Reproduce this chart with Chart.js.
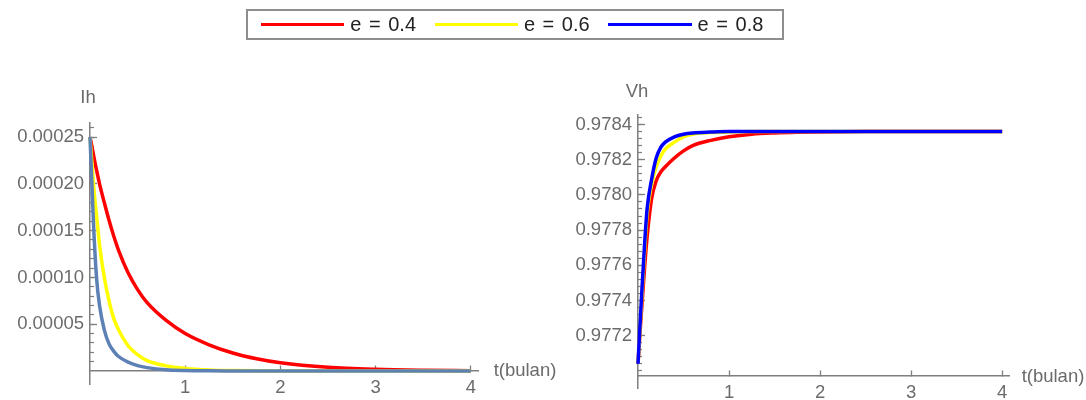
<!DOCTYPE html>
<html>
<head>
<meta charset="utf-8">
<script src="https://cdn.jsdelivr.net/npm/chart.js@4.4.1/dist/chart.umd.min.js"></script>
<style>
  body { margin: 0; background: #fff; }
  #wrap { position: relative; width: 1086px; height: 400px; overflow: hidden; font-family: "Liberation Sans", Arial, sans-serif; }
  canvas { position: absolute; top: 0; }
  #legend { position: absolute; left: 246px; top: 9px; width: 521px; height: 27px; border: 2px solid #8e8e8e;
            display: flex; align-items: center; padding-left: 13px; }
  #legend .sw { width: 84px; height: 3px; margin-right: 6px; }
  #legend .tx { width: 73px; margin-right: 12px; font-size: 20px; color: #222; white-space: nowrap; word-spacing: 2px; }
  .lbl { position: absolute; font-size: 18.5px; color: #6b6b6b; white-space: nowrap; transform: translate(-50%, -50%); }
</style>
</head>
<body>
<div id="wrap">
  <!-- canvases run a bit past the bottom edge so the plot area ends where the axes end -->
  <canvas id="ih" width="543" height="414" style="left:0"></canvas>
  <canvas id="vh" width="543" height="418" style="left:543px"></canvas>
  <div id="legend"></div>
  <div class="lbl" style="left:88px; top:97px">Ih</div>
  <div class="lbl" style="left:637px; top:91px">Vh</div>
  <div class="lbl" style="left:525px; top:370px">t(bulan)</div>
  <div class="lbl" style="left:1053px; top:376px">t(bulan)</div>
</div>
<script>
// time points (bulan), shared by all series
const tTime = [0, 0.02, 0.04, 0.07, 0.1, 0.15, 0.2, 0.25, 0.3, 0.4, 0.5, 0.6, 0.8, 1.0, 1.25, 1.5, 1.75, 2.0, 2.5, 3.0, 3.5, 4.0];

const seriesLabels = ['e = 0.4', 'e = 0.6', 'e = 0.8'];

// Ih(t)
const ihRed    = [2.5e-4, 2.40e-4, 2.29e-4, 2.14e-4, 2.0e-4, 1.80e-4, 1.61e-4, 1.44e-4, 1.29e-4, 1.05e-4, 8.7e-5, 7.3e-5, 5.4e-5, 4.0e-5, 2.8e-5, 1.92e-5, 1.3e-5, 8.7e-6, 3.9e-6, 1.75e-6, 7.9e-7, 3.6e-7];
const ihYellow = [2.5e-4, 2.22e-4, 1.95e-4, 1.65e-4, 1.35e-4, 1.0e-4, 7.5e-5, 5.6e-5, 4.4e-5, 2.7e-5, 1.75e-5, 1.1e-5, 5.5e-6, 2.8e-6, 1.1e-6, 5e-7, 2e-7, 1e-7, 0, 0, 0, 0];
const ihBlue   = [2.5e-4, 2.0e-4, 1.5e-4, 9.8e-5, 7.0e-5, 4.4e-5, 2.9e-5, 2.1e-5, 1.55e-5, 9.5e-6, 5.8e-6, 3.6e-6, 1.3e-6, 5e-7, 2e-7, 1e-7, 0, 0, 0, 0, 0, 0];

// Vh(t)
const vhRed    = [0.97704, 0.97720, 0.97735, 0.97757, 0.97776, 0.97798, 0.97808, 0.97813, 0.97816, 0.97821, 0.97825, 0.97828, 0.97831, 0.97833, 0.978345, 0.978352, 0.978356, 0.978358, 0.97836, 0.97836, 0.97836, 0.97836];
const vhYellow = [0.97704, 0.97722, 0.97740, 0.97766, 0.97789, 0.97806, 0.97816, 0.97822, 0.97826, 0.97830, 0.97833, 0.978345, 0.978354, 0.978358, 0.97836, 0.97836, 0.97836, 0.97836, 0.97836, 0.97836, 0.97836, 0.97836];
const vhBlue   = [0.97704, 0.97724, 0.97743, 0.97770, 0.97792, 0.97809, 0.97821, 0.97827, 0.97830, 0.97833, 0.978345, 0.978352, 0.978357, 0.97836, 0.97836, 0.97836, 0.97836, 0.97836, 0.97836, 0.97836, 0.97836, 0.97836];

// ticks
const xTicks = [1, 2, 3, 4];
const ihMajorTicks = [0.00005, 0.0001, 0.00015, 0.0002, 0.00025];
const vhMajorTicks = [0.9772, 0.9774, 0.9776, 0.9778, 0.978, 0.9782, 0.9784];
const ihMinorTicks = [];
for (let k = 1; k <= 26; k++) ihMinorTicks.push(k * 1e-5);
const vhMinorTicks = [];
for (let k = 0; k <= 36; k++) vhMinorTicks.push(0.977 + k * 0.00004);

const legendColors = ['#ff0000', '#ffff00', '#0000ff'];

// legend (html)
const legend = document.getElementById('legend');
seriesLabels.forEach((lab, i) => {
  legend.insertAdjacentHTML('beforeend',
    `<div class="sw" style="background:${legendColors[i]}"></div><div class="tx">${lab}</div>`);
});

const axisColor = '#7f7f7f';
const tickFont = { family: '"Liberation Sans", Arial, sans-serif', size: 18.5 };

function setTicks(values) {
  return scale => { scale.ticks = values.map(v => ({ value: v })); };
}

function makeChart(id, values, colors, opts) {
  const datasets = values.map((arr, i) => ({
    label: seriesLabels[i],
    data: tTime.map((t, j) => ({ x: t, y: arr[j] })),
    borderColor: colors[i],
    borderWidth: 3.5,
    pointRadius: 0,
    cubicInterpolationMode: 'monotone',
    clip: 6,
    order: 2 - i
  }));

  return new Chart(document.getElementById(id), {
    type: 'line',
    data: { datasets },
    options: {
      responsive: false,
      animation: false,
      events: [],
      layout: { padding: { left: 0, top: opts.top, right: opts.right, bottom: 30 } },
      plugins: { legend: { display: false }, tooltip: { enabled: false } },
      scales: {
        x: {
          type: 'linear',
          position: { y: opts.xAxisAt },
          min: 0, max: 4.075,
          afterBuildTicks: setTicks(xTicks),
          grid: { drawOnChartArea: false, drawTicks: true, tickLength: -6, tickColor: axisColor, tickWidth: 1.3 },
          border: { color: axisColor, width: 1.5 },
          ticks: { color: '#6b6b6b', font: tickFont, padding: 12, maxRotation: 0, callback: v => String(v) }
        },
        y: {
          position: 'left',
          min: opts.yMin, max: opts.yMax,
          weight: 1,
          afterBuildTicks: setTicks(opts.major),
          afterFit: s => { s.width = opts.yWidth; },
          grid: { drawOnChartArea: false, drawTicks: true, tickLength: -7, tickColor: axisColor, tickWidth: 1.3 },
          border: { color: axisColor, width: 1.5 },
          ticks: { color: '#6b6b6b', font: tickFont, padding: 13, callback: v => v.toFixed(opts.digits) }
        },
        yMinor: {
          position: 'left',
          min: opts.yMin, max: opts.yMax,
          weight: -1,
          afterBuildTicks: setTicks(opts.minor),
          afterFit: s => { s.width = 0; },
          grid: { drawOnChartArea: false, drawTicks: true, tickLength: -4, tickColor: axisColor, tickWidth: 1.2 },
          border: { display: false },
          ticks: { display: false }
        }
      }
    }
  });
}

makeChart('ih', [ihRed, ihYellow, ihBlue], ['#ff0000', '#ffff00', '#5e81b5'], {
  top: 123, right: 65, yWidth: 90, xAxisAt: 0,
  yMin: -0.0000139, yMax: 0.000265, major: ihMajorTicks, minor: ihMinorTicks, digits: 5
});

makeChart('vh', [vhRed, vhYellow, vhBlue], ['#ff0000', '#ffff00', '#0000ff'], {
  top: 115, right: 77, yWidth: 95, xAxisAt: 0.97697,
  yMin: 0.976903, yMax: 0.978454, major: vhMajorTicks, minor: vhMinorTicks, digits: 4
});
</script>
</body>
</html>
